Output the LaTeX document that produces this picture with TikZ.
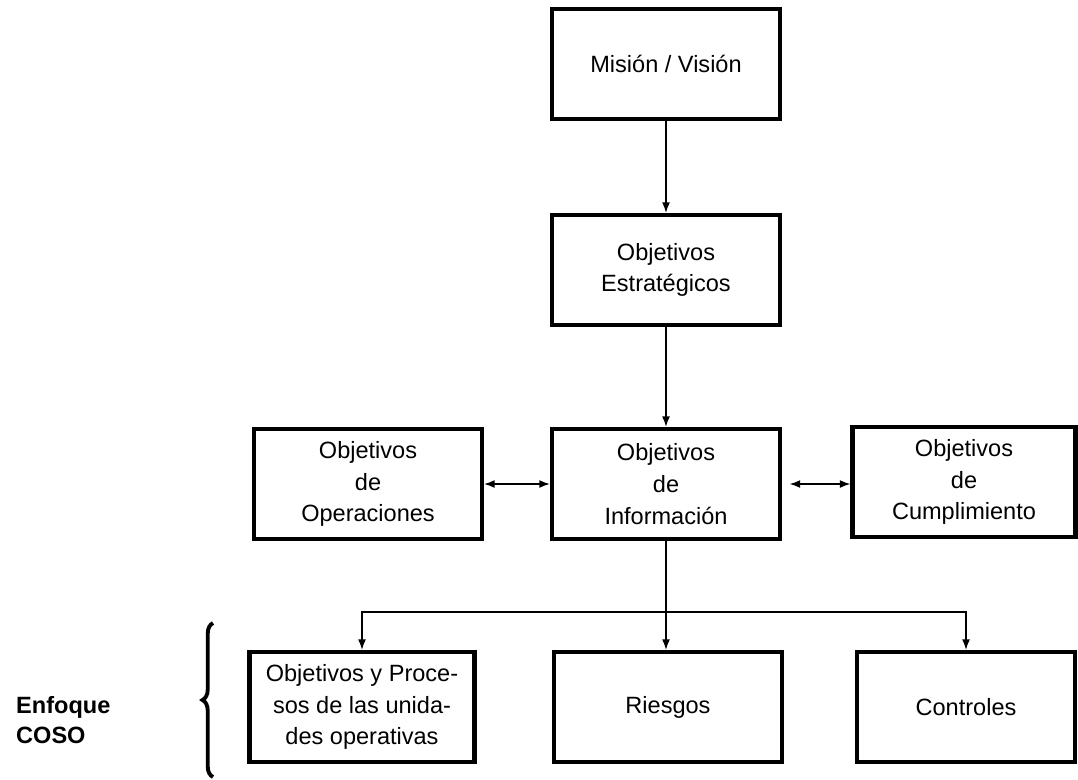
\documentclass[tikz,border=0pt]{standalone}
\usepackage{fontspec}
\setmainfont{Liberation Sans}
\usepackage{tikz}
\usetikzlibrary{arrows.meta}
\usetikzlibrary{decorations.pathreplacing}
\tikzset{>={Latex[length=6pt,width=4.5pt]}}
\tikzset{box/.style={draw,line width=2.4pt,align=center,inner sep=2pt,
    minimum width=4.56cm,minimum height=2.2cm,font=\fontsize{13.4}{18}\selectfont}}
\tikzset{link/.style={line width=0.8pt}}

\begin{document}
\begin{tikzpicture}[x=0.02cm,y=-0.02cm]
                    \useasboundingbox (0,0) rectangle (1078,779);

                    \node[box] (mision) at (666,64) {Misión / Visión};
                    \node[box] (estrat) at (666,270) {Objetivos\\Estratégicos};
                    \node[box] (info) at (666,484) {Objetivos\\de\\Información};
                    \node[box] (oper) at (368,484) {Objetivos\\de\\Operaciones};
                    \node[box,minimum width=4.46cm] (cumpl) at (964,482) {Objetivos\\de\\Cumplimiento};
                    \node[box,minimum width=4.5cm] (procesos) at (362,707) {Objetivos y Proce-\\sos de las unida-\\des operativas};
                    \node[box] (riesgos) at (668,707) {Riesgos};
                    \node[box,minimum width=4.36cm] (controles) at (966,707) {Controles};
                    \node[anchor=west,align=left,font=\fontsize{13.4}{17}\selectfont\bfseries] (enfoque) at (10,720) {Enfoque\\COSO};
                    \coordinate (bus) at (666,612);

                    \draw[link,->] (mision) -- (estrat);
                    \draw[link,->] (estrat) -- (info);
                    \draw[link,<->] (oper.east) -- (info.west);
                    \draw[link,<->,shorten <=1.5mm] (info.east) -- (cumpl.west |- info.east);
                    \draw[link,->] (info.south) -- (info.south |- riesgos.north);
                    \draw[link,->] (bus) -| (procesos.north);
                    \draw[link,->] (bus) -| (controles.north);
                    \draw[line width=2.2pt,decorate,decoration={brace,amplitude=6pt}] (213,777) -- (213,623);

                \end{tikzpicture}
\end{document}
